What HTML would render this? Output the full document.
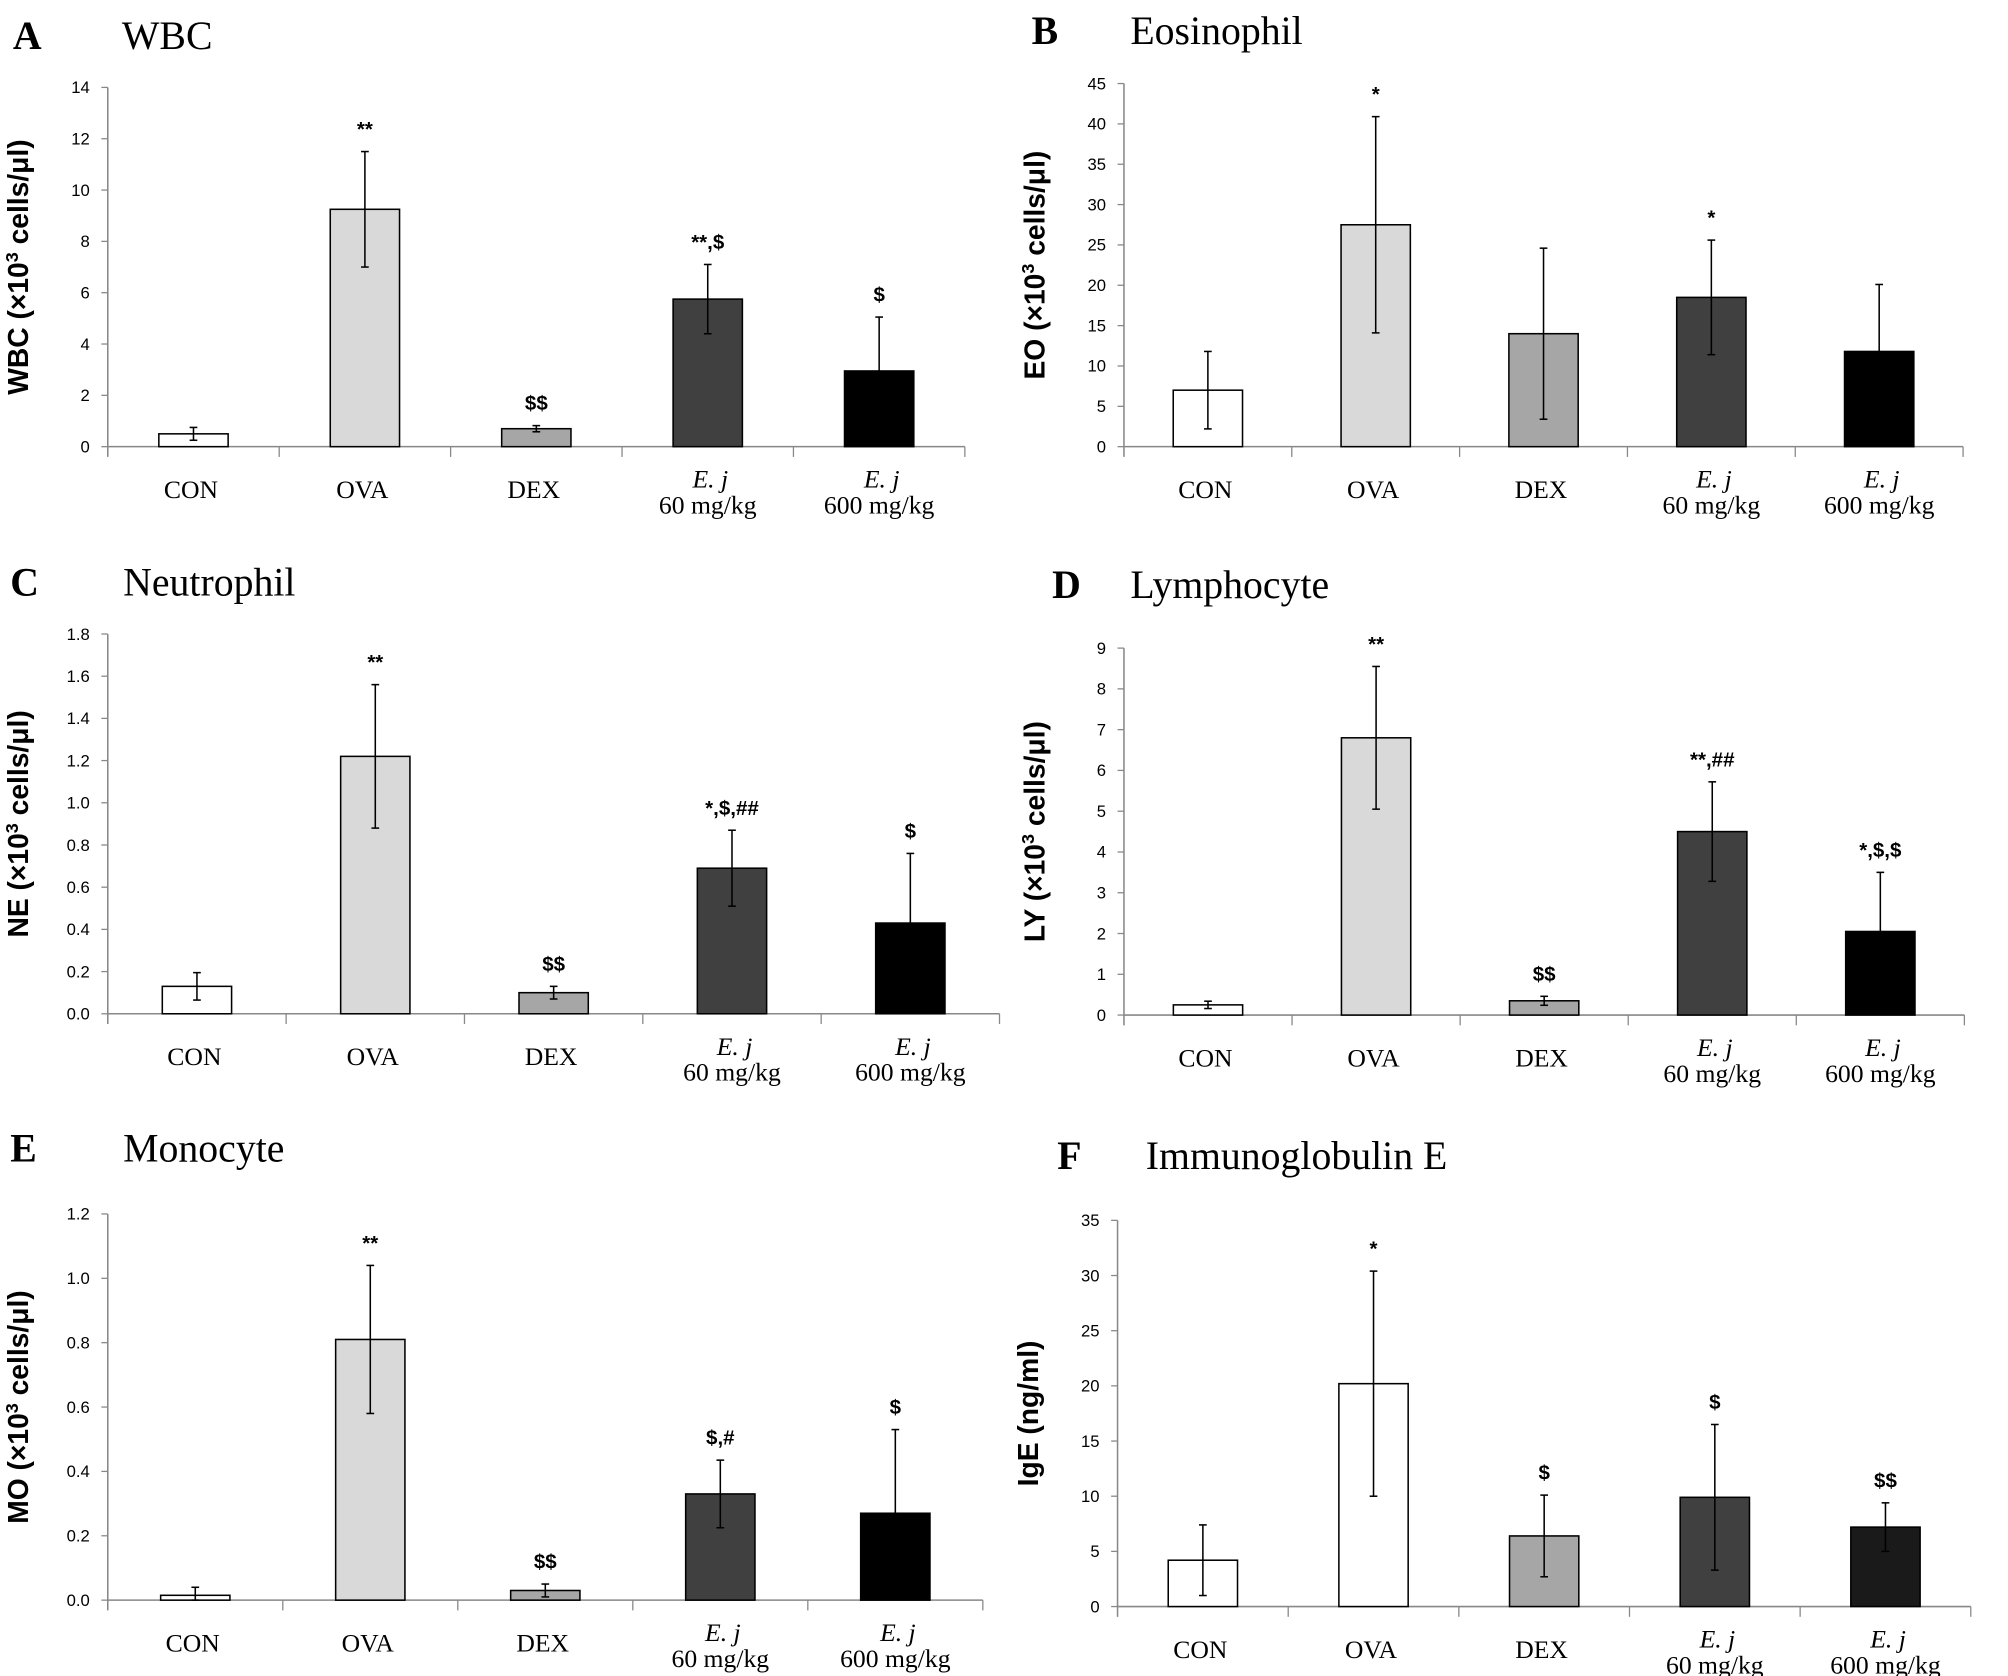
<!DOCTYPE html>
<html><head><meta charset="utf-8"><style>
html,body{margin:0;padding:0;background:#fff;}
svg{display:block;}
</style></head><body>
<svg id="fig" xmlns="http://www.w3.org/2000/svg" width="2008" height="1676" viewBox="0 0 1565 1306"></svg>
<script>
const categories = ["CON","OVA","DEX","E. j|60 mg/kg","E. j|600 mg/kg"];
const wbcMeans = [0.5, 9.25, 0.7, 5.75, 2.95];
const wbcErrs = [0.25, 2.25, 0.12, 1.35, 2.1];
const wbcTicks = [0,2,4,6,8,10,12,14];
const wbcAnn = ["","**","$$","**,$","$"];
const eoMeans = [7, 27.5, 14, 18.5, 11.8];
const eoErrs = [4.8, 13.4, 10.6, 7.1, 8.3];
const eoTicks = [0,5,10,15,20,25,30,35,40,45];
const eoAnn = ["","*","","*",""];
const neMeans = [0.13, 1.22, 0.1, 0.69, 0.43];
const neErrs = [0.065, 0.34, 0.03, 0.18, 0.33];
const neTicks = ["0.0","0.2","0.4","0.6","0.8","1.0","1.2","1.4","1.6","1.8"];
const neAnn = ["","**","$$","*,$,##","$"];
const lyMeans = [0.25, 6.8, 0.35, 4.5, 2.05];
const lyErrs = [0.09, 1.75, 0.11, 1.22, 1.45];
const lyTicks = [0,1,2,3,4,5,6,7,8,9];
const lyAnn = ["","**","$$","**,##","*,$,$"];
const moMeans = [0.015, 0.81, 0.03, 0.33, 0.27];
const moErrs = [0.025, 0.23, 0.02, 0.105, 0.26];
const moTicks = ["0.0","0.2","0.4","0.6","0.8","1.0","1.2"];
const moAnn = ["","**","$$","$,#","$"];
const igeMeans = [4.2, 20.2, 6.4, 9.9, 7.2];
const igeErrs = [3.2, 10.2, 3.7, 6.6, 2.2];
const igeTicks = [0,5,10,15,20,25,30,35];
const igeAnn = ["","*","$","$","$$"];

const NS="http://www.w3.org/2000/svg";
const svg=document.getElementById('fig');
function mk(tag,attrs,parent,text){const e=document.createElementNS(NS,tag);for(const k in attrs)e.setAttribute(k,attrs[k]);if(text!==undefined)e.textContent=text;(parent||svg).appendChild(e);return e;}

function panel(cfg){
  const g=mk('g',{});
  
  
  const ticks=cfg.ticks, tmax=parseFloat(ticks[ticks.length-1]);
  const y=v=>cfg.y0-(v/tmax)*(cfg.y0-cfg.yTop);
  const band=(cfg.x1-cfg.x0)/5;
  const cx=i=>cfg.x0+(i+0.5)*band;
  const L=mk('text',{x:cfg.lx,y:cfg.ly,'font-family':'Liberation Serif, serif','font-weight':'bold','font-size':31,fill:'#000'},g,cfg.letter);
  
  const T=mk('text',{x:cfg.tx,y:cfg.ly,'font-family':'Liberation Serif, serif','font-size':31,fill:'#000'},g,cfg.title);
  
  const ym=(cfg.y0+cfg.yTop)/2;
  const YT=mk('text',{x:0,y:0,transform:`translate(${cfg.x0-62},${ym}) rotate(-90)`,'text-anchor':'middle','font-family':'Liberation Sans, sans-serif','font-weight':'bold','font-size':22,fill:'#000'},g);
  
  if(cfg.ylab2){YT.textContent=cfg.ylab;mk('tspan',{dy:-8,'font-size':14},YT,'3');mk('tspan',{dy:8},YT,cfg.ylab2);}
  else YT.textContent=cfg.ylab;
  const ax=mk('line',{x1:cfg.x0,y1:cfg.yTop,x2:cfg.x0,y2:cfg.y0+8,stroke:'#888','stroke-width':1.2},g);
  
  ticks.forEach(t=>{const v=parseFloat(t);const yy=y(v);
    mk('line',{x1:cfg.x0-5,y1:yy,x2:cfg.x0,y2:yy,stroke:'#888'},g);
    const tl=mk('text',{x:cfg.x0-14,y:yy+4.5,'text-anchor':'end','font-family':'Liberation Sans, sans-serif','font-size':13,fill:'#000'},g,String(t));
    
  });
  const xa=mk('line',{x1:cfg.x0,y1:cfg.y0,x2:cfg.x1,y2:cfg.y0,stroke:'#888','stroke-width':1.2},g);
  
  for(let i=1;i<=5;i++)mk('line',{x1:cfg.x0+i*band,y1:cfg.y0,x2:cfg.x0+i*band,y2:cfg.y0+8,stroke:'#888'},g);
  const bw=54;
  cfg.means.forEach((m,i)=>{
    const r=mk('rect',{x:cx(i)-bw/2,y:y(m),width:bw,height:cfg.y0-y(m),fill:cfg.colors[i],stroke:'#000','stroke-width':1.2},g);
    
    const e=cfg.errs[i];const hi=y(m+e),lo=y(Math.max(0,m-e));
    const eg=mk('g',{stroke:'#000','stroke-width':1.2},g);
    
    mk('line',{x1:cx(i),y1:hi,x2:cx(i),y2:lo},eg);
    mk('line',{x1:cx(i)-3,y1:hi,x2:cx(i)+3,y2:hi},eg);
    mk('line',{x1:cx(i)-3,y1:lo,x2:cx(i)+3,y2:lo},eg);
    if(cfg.ann[i]){const a=mk('text',{x:cx(i),y:hi-12,'text-anchor':'middle','font-family':'Liberation Sans, sans-serif','font-weight':'bold','font-size':16,fill:'#000'},g,cfg.ann[i]);
      }
    const parts=categories[i].split('|');
    if(parts.length===1){const c=mk('text',{x:cx(i)-2,y:cfg.y0+40,'text-anchor':'middle','font-family':'Liberation Serif, serif','font-size':20,fill:'#000'},g,parts[0]);
      }
    else{const c=mk('text',{x:cx(i)+2,y:cfg.y0+32,'text-anchor':'middle','font-family':'Liberation Serif, serif','font-style':'italic','font-size':20,fill:'#000'},g,parts[0]);
      
      const d=mk('text',{x:cx(i),y:cfg.y0+52,'text-anchor':'middle','font-family':'Liberation Serif, serif','font-size':20,fill:'#000'},g,parts[1]);
      }
  });
}
const colA=['#fff','#d9d9d9','#a6a6a6','#404040','#000'];
panel({id:'a',letter:'A',title:'WBC',lx:10,tx:95,ly:38,ylab:'WBC (×10',ylab2:' cells/μl)',x0:84,x1:752,yTop:68,y0:348,ticks:wbcTicks,means:wbcMeans,errs:wbcErrs,ann:wbcAnn,colors:colA});
panel({id:'b',letter:'B',title:'Eosinophil',lx:804,tx:881,ly:34,ylab:'EO (×10',ylab2:' cells/μl)',x0:876,x1:1530,yTop:65,y0:348,ticks:eoTicks,means:eoMeans,errs:eoErrs,ann:eoAnn,colors:colA});
panel({id:'c',letter:'C',title:'Neutrophil',lx:8,tx:96,ly:464,ylab:'NE (×10',ylab2:' cells/μl)',x0:84,x1:779,yTop:494,y0:790,ticks:neTicks,means:neMeans,errs:neErrs,ann:neAnn,colors:colA});
panel({id:'d',letter:'D',title:'Lymphocyte',lx:820,tx:881,ly:466,ylab:'LY (×10',ylab2:' cells/μl)',x0:876,x1:1531,yTop:505,y0:791,ticks:lyTicks,means:lyMeans,errs:lyErrs,ann:lyAnn,colors:colA});
panel({id:'e',letter:'E',title:'Monocyte',lx:8,tx:96,ly:905,ylab:'MO (×10',ylab2:' cells/μl)',x0:84,x1:766,yTop:946,y0:1247,ticks:moTicks,means:moMeans,errs:moErrs,ann:moAnn,colors:colA});
panel({id:'f',letter:'F',title:'Immunoglobulin E',lx:824,tx:893,ly:911,ylab:'IgE (ng/ml)',x0:871,x1:1536,yTop:951,y0:1252,ticks:igeTicks,means:igeMeans,errs:igeErrs,ann:igeAnn,colors:['#fff','#fff','#a6a6a6','#404040','#1a1a1a']});
</script>
</body></html>
